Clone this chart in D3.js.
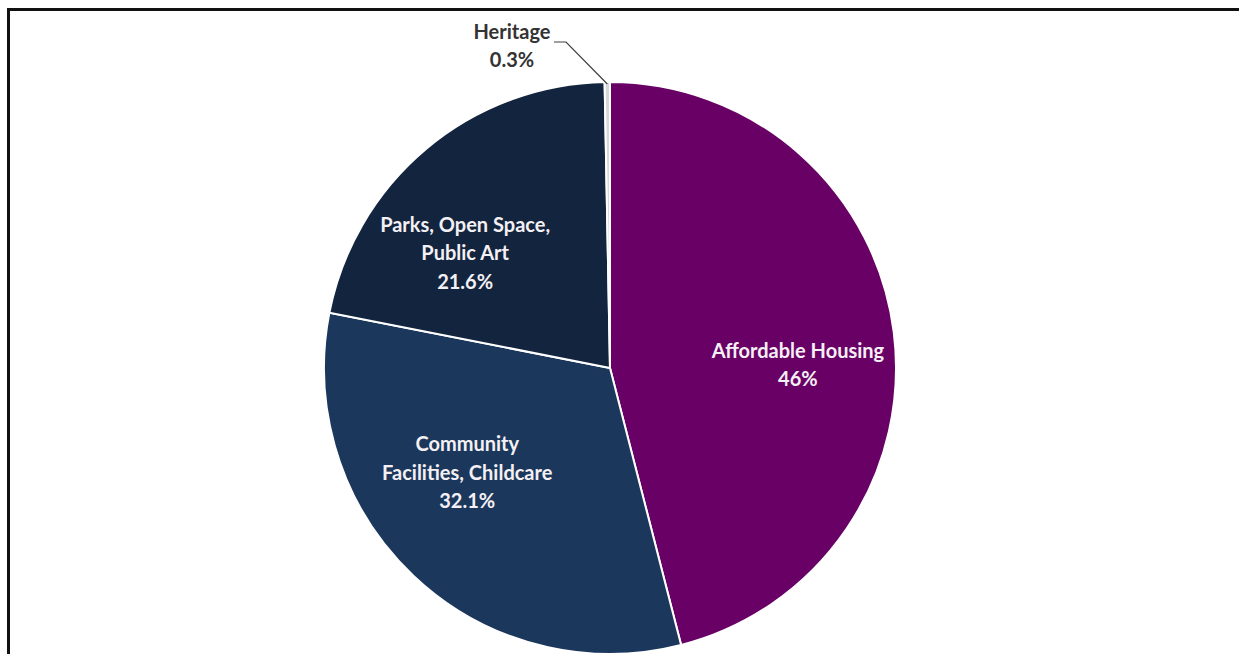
<!DOCTYPE html>
<html>
<head>
<meta charset="utf-8">
<script src="https://cdn.jsdelivr.net/npm/d3@7.9.0/dist/d3.min.js"></script>
<style>
  body { margin: 0; background: #fff; }
  svg { display: block; }
  .label { font-family: Lato, "Open Sans", sans-serif; font-weight: bold; font-size: 20px; }
</style>
</head>
<body>
<svg width="1239" height="654"></svg>
<script>
// chart data
const categories = ['Affordable Housing', 'Community Facilities, Childcare', 'Parks, Open Space, Public Art', 'Heritage'];
const values = [46, 32.1, 21.6, 0.3];
const valueLabels = ['46%', '32.1%', '21.6%', '0.3%'];
const labelLines = [
    ['Affordable Housing'],
    ['Community', 'Facilities, Childcare'],
    ['Parks, Open Space,', 'Public Art'],
    ['Heritage']
];
const sliceColors = ['#680066', '#1b375c', '#13243e', '#d8d8dc'];
// nudges of the inside labels away from the arc centroid
const labelNudge = [[12, 19], [-21, -24], [-31, 21]];

const svg = d3.select('svg');

// frame around the chart
svg.append('path')
    .attr('d', 'M8.5,1000 V9.5 H1300')
    .attr('fill', 'none')
    .attr('stroke', '#111')
    .attr('stroke-width', 3);

const cx = 610, cy = 368, radius = 286;
const g = svg.append('g').attr('transform', `translate(${cx},${cy})`);

let data = categories.map((c, i) => ({ label: c, value: values[i], i: i }));
let arcData = d3.pie().sort(null).value(d => d.value)(data);
let arcGenerator = d3.arc().innerRadius(0).outerRadius(radius);

g.selectAll('path')
    .data(arcData)
    .join('path')
    .attr('d', arcGenerator)
    .attr('fill', d => sliceColors[d.data.i])
    .attr('stroke', '#fff')
    .attr('stroke-width', 2);

// labels inside slices
let labelArc = d3.arc().innerRadius(radius * 0.62).outerRadius(radius * 0.62);
const lineH = 28.5;

arcData.slice(0, 3).forEach(d => {
    let [x, y] = labelArc.centroid(d);
    x += labelNudge[d.data.i][0];
    y += labelNudge[d.data.i][1];
    let lines = labelLines[d.data.i].concat([valueLabels[d.data.i]]);
    let text = g.append('text')
        .attr('class', 'label')
        .attr('text-anchor', 'middle')
        .attr('fill', '#f4f0f4');
    let y0 = y - (lines.length - 1) * lineH / 2;
    lines.forEach((ln, k) => {
        text.append('tspan')
            .attr('x', x)
            .attr('y', y0 + k * lineH)
            .attr('dy', '0.35em')
            .text(ln);
    });
});

// heritage label outside with leader line
let h = arcData[3];
let mid = (h.startAngle + h.endAngle) / 2;
let edge = [Math.sin(mid) * (radius - 2), -Math.cos(mid) * (radius - 2)];
let hx = 512 - cx, hy = 32 - cy;
g.append('polyline')
    .attr('points', [[hx + 42, hy + 10], [hx + 54, hy + 10], edge].map(p => p.join(',')).join(' '))
    .attr('fill', 'none')
    .attr('stroke', '#404040')
    .attr('stroke-width', 1.2);
let ht = g.append('text')
    .attr('class', 'label')
    .attr('text-anchor', 'middle')
    .attr('fill', '#333');
[labelLines[3][0], valueLabels[3]].forEach((ln, k) => {
    ht.append('tspan')
        .attr('x', hx)
        .attr('y', hy + k * 28)
        .attr('dy', '0.35em')
        .text(ln);
});
</script>
</body>
</html>
